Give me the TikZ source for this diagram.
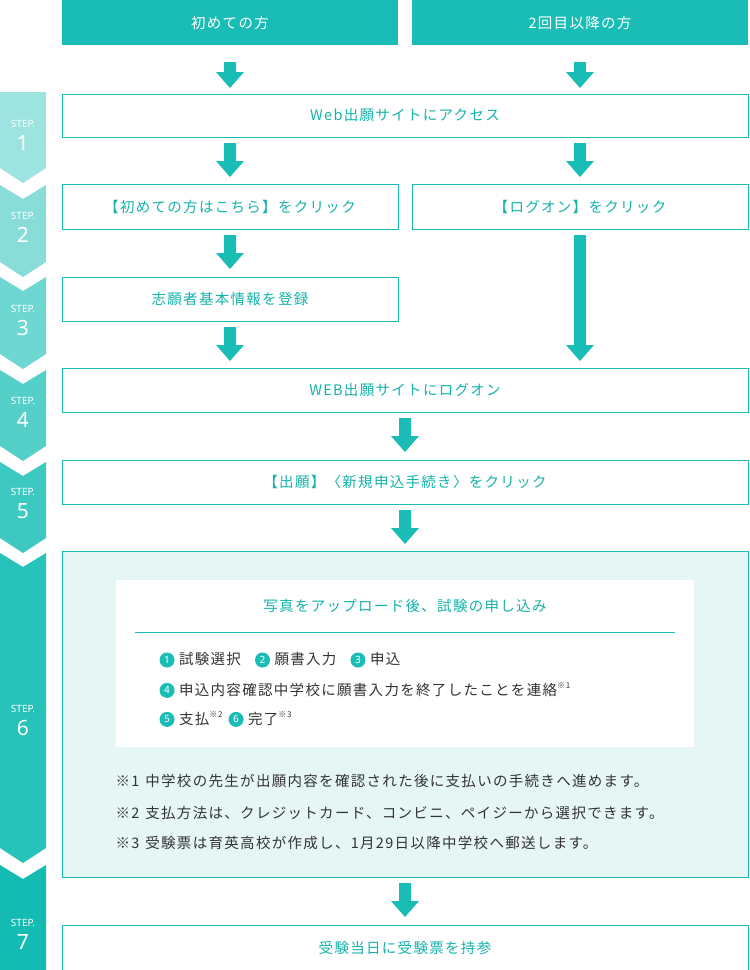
\documentclass[tikz,border=0pt]{standalone}
\usepackage{fontspec}
\setmainfont{Noto Sans CJK JP}[LetterSpace=9]
\newfontfamily\stepfont{Noto Sans}
\definecolor{teal1}{HTML}{1ABDB5}
\definecolor{tealtxt}{HTML}{14B3AB}
\definecolor{pale}{HTML}{E6F6F5}
\definecolor{ink}{HTML}{333333}
\definecolor{s1}{HTML}{9DE3DF}
\definecolor{s2}{HTML}{88DDD8}
\definecolor{s3}{HTML}{6FD7D1}
\definecolor{s4}{HTML}{55D0C9}
\definecolor{s5}{HTML}{3DC9C2}
\definecolor{s6}{HTML}{27C2BA}
\definecolor{s7}{HTML}{14BBB2}
\newcommand{\cnum}[1]{\tikz[baseline=-0.6ex]\node[circle,fill=teal1,inner sep=0pt,minimum size=15pt,text=white,font=\stepfont\bfseries\fontsize{10}{10}\selectfont]{#1};}
\newcommand{\nt}[1]{\raisebox{0.9ex}{\fontsize{8}{8}\selectfont ※#1}}
\begin{document}
\begin{tikzpicture}[x=1pt,y=-1pt,
 hdr/.style={fill=teal1,text=white,font=\fontsize{14.5}{14.5}\selectfont},
 sbox/.style={draw=teal1,line width=1pt,fill=white,text=tealtxt,font=\fontsize{14.5}{14.5}\selectfont},
 arr/.style={draw=none,fill=teal1}]
\useasboundingbox (0,0) rectangle (750,970);
\newcommand{\chev}[4]{%
 \ifnum#4=1
 \fill[#3] (0,#1) -- (23,#1+14) -- (46,#1) -- (46,#2) -- (23,#2+15) -- (0,#2) -- cycle;
 \else
 \fill[#3] (0,#1) -- (46,#1) -- (46,#2) -- (23,#2+15) -- (0,#2) -- cycle;
 \fi}
\chev{92}{168}{s1}{0}
\chev{185}{262}{s2}{1}
\chev{277}{354}{s3}{1}
\chev{370}{446}{s4}{1}
\chev{462}{538}{s5}{1}
\chev{553}{848}{s6}{1}
\fill[s7] (0,865) -- (23,879) -- (46,865) -- (46,970) -- (0,970) -- cycle;
\foreach \y/\n in {132/1,224/2,317/3,409/4,500/5,717/6,931/7}{
 \node[text=white,font=\stepfont\bfseries\fontsize{10}{10}\selectfont] (st\n) at (23,\y-8) {STEP.};
 \node[text=white,font=\stepfont\fontsize{21}{21}\selectfont] (sn\n) at (23,\y+11) {\n};
}
\node[hdr,minimum width=336,minimum height=45] (h1) at (230,22.5) {初めての方};
\node[hdr,minimum width=336,minimum height=45] (h2) at (580,22.5) {2回目以降の方};
\node[sbox,minimum width=686,minimum height=43] (b1) at (405,115.5) {Web出願サイトにアクセス};
\node[sbox,minimum width=336,minimum height=45] (b2l) at (230,206.5) {【初めての方はこちら】をクリック};
\node[sbox,minimum width=336,minimum height=45] (b2r) at (580,206.5) {【ログオン】をクリック};
\node[sbox,minimum width=336,minimum height=44] (b3) at (230,299) {志願者基本情報を登録};
\node[sbox,minimum width=686,minimum height=44] (b4) at (405,390) {WEB出願サイトにログオン};
\node[sbox,minimum width=686,minimum height=44] (b5) at (405,482) {【出願】〈新規申込手続き〉をクリック};
\node[draw=teal1,line width=1pt,fill=pale,minimum width=686,minimum height=326] (b6) at (405,714) {};
\node[fill=white,minimum width=578,minimum height=167] (in) at (405,663.5) {};
\node[sbox,minimum width=686,minimum height=45] (b7) at (405,947.5) {受験当日に受験票を持参};
\node[text=tealtxt,font=\fontsize{14.5}{14.5}\selectfont] (t6) at (405,606) {写真をアップロード後、試験の申し込み};
\draw[teal1,line width=0.8pt] (135,632) -- (675,632);
\begin{scope}[every node/.style={anchor=west,text=ink,font=\fontsize{14.5}{14.5}\selectfont}]
\node (i1) at (156,660) {\cnum{1} 試験選択\hspace{14pt}\cnum{2} 願書入力\hspace{14pt}\cnum{3} 申込};
\node (i2) at (156,690) {\cnum{4} 申込内容確認中学校に願書入力を終了したことを連絡\nt{1}};
\node (i3) at (156,719) {\cnum{5} 支払\nt{2}\hspace{6pt}\cnum{6} 完了\nt{3}};
\node (n1) at (112,781) {※1\hspace{6pt}中学校の先生が出願内容を確認された後に支払いの手続きへ進めます。};
\node (n2) at (112,813) {※2\hspace{6pt}支払方法は、クレジットカード、コンビニ、ペイジーから選択できます。};
\node (n3) at (112,843) {※3\hspace{6pt}受験票は育英高校が作成し、1月29日以降中学校へ郵送します。};
\end{scope}
\newcommand{\darr}[3]{\fill[teal1] (#1-6,#2) -- (#1+6,#2) -- (#1+6,#3-16) -- (#1+14,#3-16) -- (#1,#3) -- (#1-14,#3-16) -- (#1-6,#3-16) -- cycle;}
\darr{230}{62}{88}
\darr{580}{62}{88}
\darr{230}{143}{177}
\darr{580}{143}{177}
\darr{230}{235}{269}
\darr{580}{235}{361}
\darr{230}{327}{361}
\darr{405}{418}{452}
\darr{405}{510}{544}
\darr{405}{883}{917}
\end{tikzpicture}
\end{document}
